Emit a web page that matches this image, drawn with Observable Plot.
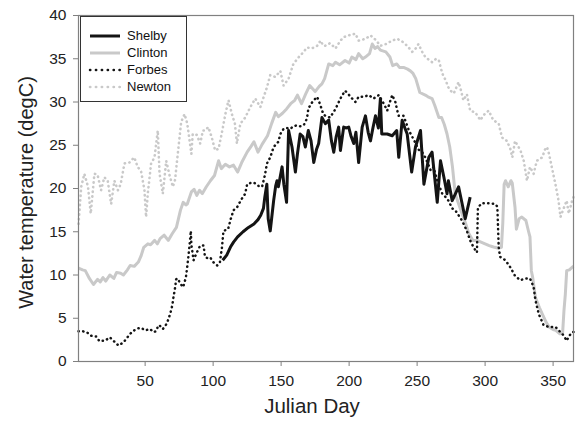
<!DOCTYPE html>
<html>
<head>
<meta charset="utf-8">
<script src="https://cdn.jsdelivr.net/npm/d3@7"></script>
<script src="https://cdn.jsdelivr.net/npm/@observablehq/plot@0.6"></script>
<style>
  body { margin: 0; background: #fff; }
  #wrap { position: relative; width: 576px; height: 422px; font-family: "Liberation Sans", Arial, sans-serif; }
  #legend { position: absolute; left: 80px; top: 16px; width: 107px; height: 86px; border: 1px solid #333; background: #fff; box-sizing: border-box; }
  .row { position: absolute; left: 0; height: 17px; display: flex; align-items: center; font-size: 13px; color: #111; }
  .row svg { margin-left: 7px; margin-right: 6px; }
</style>
</head>
<body>
<div id="wrap"></div>
<script>
// Series: [Julian day, water temperature degC]
const shelby = [[107,11.7],[110,12.3],[113,13.3],[115,13.8],[118,14.4],[122,15.0],[126,15.5],[130,15.9],[133,16.4],[135,16.9],[137,17.7],[138,19.0],[139.5,20.5],[140.5,16.5],[142,15.1],[143,16.5],[144.5,18.6],[146,20.3],[147,20.9],[148,20.2],[149.5,21.5],[150.7,22.5],[152,20.5],[154,18.4],[155.5,26.7],[158,24.8],[160.5,21.9],[162,24.0],[164,26.3],[166,26.0],[167.8,24.8],[170,26.7],[172,25.5],[174,23.0],[176,24.5],[177.6,25.2],[180,28.2],[182.5,27.5],[185,27.9],[187,25.5],[188.7,24.2],[190.5,26.0],[192.3,27.1],[193.6,24.4],[196,27.1],[198,27.0],[199.7,27.1],[201.5,26.0],[203.4,25.2],[205,26.5],[207,23.0],[209.6,27.1],[212,28.4],[214,26.5],[215.7,25.5],[217.5,27.0],[219.4,28.4],[221.5,27.0],[223,30.4],[224,26.3],[228,26.3],[231.7,26.1],[235,26.7],[236.5,23.6],[239,27.9],[241,27.0],[242.7,26.3],[246,21.9],[248.8,24.8],[252.5,26.7],[255,20.5],[258.6,23.6],[261,24.2],[264.8,18.4],[267.2,23.2],[269.7,21.3],[272,19.4],[273,20.9],[275.8,18.6],[277,19.0],[280.5,20.2],[285.4,16.5],[289,19.0]];

const clinton = [[1,10.8],[4,10.6],[6,10.5],[9,9.6],[12,8.9],[15,9.5],[17,9.2],[19,9.7],[21,9.3],[24,10.0],[27,9.6],[29,10.3],[32,10.2],[34,10.0],[37,10.6],[39,11.1],[42,11.0],[45,11.5],[47,12.2],[49,13.2],[52,13.6],[54,13.5],[57,14.0],[59,13.6],[61,14.2],[64,14.6],[67,14.0],[70,14.8],[73,15.5],[76,17.5],[78,18.4],[80,18.1],[81,18.2],[84,19.6],[86,19.9],[88,19.2],[90,19.8],[92,19.4],[95,20.2],[98,20.9],[101,21.5],[104,23.2],[106,22.3],[109,22.8],[112,22.5],[115,22.7],[118,21.9],[121,23.0],[125,24.2],[128,24.9],[130,25.4],[133,24.2],[136,25.1],[140,26.1],[143,27.5],[146,28.8],[148,28.3],[151,28.7],[154,29.2],[157,29.8],[160,30.2],[162,30.8],[165,29.8],[168,30.9],[171,31.9],[175,31.2],[178,31.8],[180,32.1],[182,32.7],[185,34.4],[188,34.2],[190,34.6],[193,34.3],[197,34.8],[200,34.5],[202,35.2],[205,34.9],[207,35.6],[210,35.0],[212,35.2],[215,35.6],[217,36.7],[219,36.2],[221,36.4],[223,36.0],[227,35.8],[230,35.2],[232,34.2],[235,34.4],[237,34.0],[240,34.0],[243,33.8],[245,33.6],[247,33.3],[249,32.7],[252,31.1],[256,30.8],[258,30.6],[261,30.4],[263,29.6],[266,28.2],[268,28.2],[270,27.4],[272,26.3],[274,24.8],[276,22.5],[278,19.4],[281,18.0],[283,17.1],[286,15.8],[288,14.8],[291,14.0],[294,14.0],[297,13.8],[300,13.6],[303,13.4],[305,13.3],[307,13.2],[310,13.1],[312,13.2],[313,16.0],[314,20.5],[315,20.9],[317,20.2],[319,20.9],[320,20.6],[322,17.8],[323,15.3],[325,16.5],[327,16.7],[330,16.3],[332,15.0],[333,14.4],[334,10.5],[335,9.7],[337,7.4],[340,6.2],[342,5.5],[345,4.5],[347,4.0],[350,3.7],[352,3.6],[355,3.2],[357,3.3],[358,5.9],[359,7.8],[360,10.5],[362,10.6],[364,10.9],[365,11.0]];

const forbes = [[1,3.5],[4,3.5],[7,3.4],[10,3.0],[12,2.9],[14,2.9],[16.4,2.35],[18,2.4],[20.5,2.4],[24,2.8],[26.7,2.4],[28,2.2],[30.4,1.85],[32,2.0],[34,2.2],[36,2.6],[39,3.2],[41,3.5],[44,3.8],[47,3.9],[50,3.6],[53.7,3.75],[56,3.4],[58,3.5],[59.8,4.2],[61,4.1],[63,3.75],[66,4.4],[68.4,5.5],[70,6.5],[70.8,7.4],[72,8.5],[72.8,9.5],[74,9.6],[75.8,9.0],[78,8.6],[80,9.75],[81,11.0],[82,12.4],[83,14.0],[83.6,15.1],[84,13.5],[85,12.4],[85.6,11.7],[88,12.6],[90.5,13.4],[93,13.4],[94,12.1],[96.4,11.9],[98,12.0],[100,11.5],[103,11.1],[105,11.5],[106.5,13.2],[107.6,15.1],[111,15.3],[113,16.5],[115,17.5],[117.5,17.8],[121,18.8],[123.6,19.4],[125,20.5],[128.6,20.7],[131,20.6],[133.4,20.3],[136,20.2],[138,21.5],[139.6,22.9],[142,23.6],[144.5,24.8],[148,25.4],[149.4,26.3],[151.8,26.9],[154,27.0],[156.8,26.9],[159,27.2],[161.7,27.3],[164,27.2],[166.6,27.3],[169,28.1],[170,29.2],[172,29.8],[174,30.2],[176.5,30.6],[178.5,29.8],[181,28.6],[182.5,28.4],[186,28.2],[188,28.7],[190,29.2],[193.6,30.4],[197,31.3],[199,31.0],[201,30.6],[204.6,30.0],[207,30.6],[211,30.6],[214.4,30.8],[218,30.4],[221.8,30.8],[225.5,29.8],[228,29.0],[230,30.0],[231.7,30.8],[234,30.0],[235.4,29.0],[236.5,28.4],[240,28.4],[244,26.7],[248,25.5],[251,24.5],[253.7,24.2],[256,23.6],[260,22.1],[262,22.5],[265,20.8],[267,20.0],[268.5,19.4],[271,19.0],[273,18.6],[275.8,17.7],[278,17.5],[283,16.3],[286.6,15.1],[289,14.0],[291.5,13.2],[294,12.6],[294.7,17.8],[297.6,18.3],[302.6,18.3],[307.5,18.2],[309,17.9],[310,13.2],[311,12.1],[315,11.7],[318.5,10.9],[322,9.9],[326,9.4],[329.6,9.6],[333,9.6],[335.7,8.6],[337,7.1],[339.4,5.5],[343,4.2],[346.8,4.0],[351.7,4.0],[355.4,3.4],[357.8,3.0],[360,2.4],[362,3.0],[364,3.4],[365,3.4]];

const newton = [[1,15.9],[2,18.0],[3,20.2],[5.3,21.7],[8,20.2],[10,17.1],[12.7,21.7],[15,21.6],[17.6,19.8],[20,21.3],[22.5,20.9],[25,18.2],[27.4,20.9],[30,19.8],[32,20.5],[34.8,22.9],[38.4,23.0],[42,23.6],[44.5,22.5],[47,22.0],[49.5,19.8],[50.7,16.7],[52,19.5],[54.4,22.9],[56.9,23.6],[59.3,26.7],[60.6,21.7],[63,19.4],[65.5,23.2],[68,21.5],[70.4,20.2],[72,21.0],[74,24.0],[76.5,27.7],[79,28.6],[81,27.5],[84,24.0],[85,26.3],[88,26.2],[90.5,25.2],[92.5,26.7],[94,26.7],[96.5,27.1],[99,25.9],[101.5,24.4],[104,24.6],[106.5,26.5],[109,28.6],[111.3,30.2],[113.8,28.6],[116,27.5],[117.5,25.2],[120,27.5],[123.6,28.2],[127.3,29.4],[131,30.4],[134.7,29.4],[137,30.5],[139.6,31.7],[142,33.1],[145.7,32.9],[149.4,33.6],[151.8,31.9],[155.5,32.7],[159,34.4],[163,35.2],[166.6,35.8],[169,36.3],[172.7,36.2],[176.5,36.5],[179,37.1],[181,36.5],[182.5,36.5],[186,36.8],[190,36.2],[193.6,37.1],[196,37.5],[199.7,37.7],[204.6,37.9],[207,37.1],[212,37.3],[215.7,37.7],[219.4,37.2],[223,36.5],[227,36.7],[231.7,37.1],[235.4,37.3],[239,37.0],[242.7,36.5],[246.4,35.8],[249,36.2],[251,36.7],[253.7,35.8],[256,35.2],[258.5,34.9],[261,34.6],[264,35.0],[266,34.8],[268.5,33.3],[271,32.5],[273,31.7],[274.6,31.3],[277,31.0],[280.5,32.3],[282,31.5],[284,30.2],[286.6,30.9],[289,29.0],[292.8,28.8],[296.5,27.9],[299,28.5],[302.6,29.0],[306,27.9],[310,27.5],[312.4,25.9],[316,25.5],[318.5,24.6],[320,23.6],[322,25.5],[326,24.4],[328.4,23.2],[330.8,20.9],[333,22.5],[335.7,21.7],[338,23.2],[342,23.6],[344,24.5],[345.5,24.8],[347,24.0],[349,22.5],[351.7,20.5],[354,18.6],[355.4,16.7],[358,17.8],[360,18.6],[361.5,17.1],[364,18.6],[365,19.0]];

const xTicks = [50, 100, 150, 200, 250, 300, 350];
const yTicks = [0, 5, 10, 15, 20, 25, 30, 35, 40];
const xLabel = "Julian Day";
const yLabel = "Water temperature (degC)";

const series = [
  {name: "Shelby", data: shelby, stroke: "#141414", width: 3, dash: null},
  {name: "Clinton", data: clinton, stroke: "#c9c9c9", width: 3, dash: null},
  {name: "Forbes", data: forbes, stroke: "#141414", width: 2.5, dash: "0.3,4.4"},
  {name: "Newton", data: newton, stroke: "#c9c9c9", width: 2.6, dash: "0.3,4.4"}
];
// draw order: Newton, Clinton, Forbes, Shelby
const drawOrder = ["Newton", "Clinton", "Forbes", "Shelby"];

const lineMarks = drawOrder.map(n => {
  const s = series.find(d => d.name === n);
  return Plot.line(s.data, {
    x: d => d[0], y: d => d[1],
    stroke: s.stroke, strokeWidth: s.width,
    strokeDasharray: s.dash || undefined,
    strokeLinecap: s.dash ? "round" : "butt",
    strokeLinejoin: "round", curve: "linear"
  });
});

const chart = Plot.plot({
  width: 576,
  height: 422,
  marginLeft: 78,
  marginRight: 3,
  marginTop: 15,
  marginBottom: 61,
  style: {fontFamily: "'Liberation Sans', Arial, sans-serif", fontSize: "15.5px", color: "#222", background: "#fff"},
  x: {domain: [1, 365]},
  y: {domain: [0, 40]},
  marks: [
    ...lineMarks,
    Plot.frame({stroke: "#808080", strokeWidth: 1.2}),
    Plot.axisX({ticks: xTicks, tickSize: 5, tickPadding: 8, stroke: "#808080", fill: "#222", fontSize: 15.5, label: null}),
    Plot.axisY({ticks: yTicks, tickSize: 5, tickPadding: 7, stroke: "#808080", fill: "#222", fontSize: 15.5, label: null}),
    Plot.text([xLabel], {frameAnchor: "bottom", dx: -14, dy: 51, fontSize: 20.5, fill: "#222"}),
    Plot.text([yLabel], {frameAnchor: "left", textAnchor: "middle", dx: -52, dy: 4, rotate: -90, fontSize: 20, fill: "#222"})
  ]
});

const wrap = document.getElementById("wrap");
wrap.appendChild(chart);

// Legend (inset box in upper-left of plot)
const legend = document.createElement("div");
legend.id = "legend";
const rowTops = [10, 27, 44, 61];
series.forEach((s, i) => {
  const row = document.createElement("div");
  row.className = "row";
  row.style.top = rowTops[i] + "px";
  const ns = "http://www.w3.org/2000/svg";
  const svg = document.createElementNS(ns, "svg");
  svg.setAttribute("width", 33);
  svg.setAttribute("height", 10);
  const ln = document.createElementNS(ns, "line");
  ln.setAttribute("x1", 2); ln.setAttribute("x2", 32);
  ln.setAttribute("y1", 5); ln.setAttribute("y2", 5);
  ln.setAttribute("stroke", s.stroke);
  ln.setAttribute("stroke-width", s.width);
  if (s.dash) { ln.setAttribute("stroke-dasharray", "0.3,5.6"); ln.setAttribute("stroke-linecap", "round"); }
  svg.appendChild(ln);
  row.appendChild(svg);
  const t = document.createElement("span");
  t.textContent = s.name;
  row.appendChild(t);
  legend.appendChild(row);
});
wrap.appendChild(legend);
</script>
</body>
</html>
